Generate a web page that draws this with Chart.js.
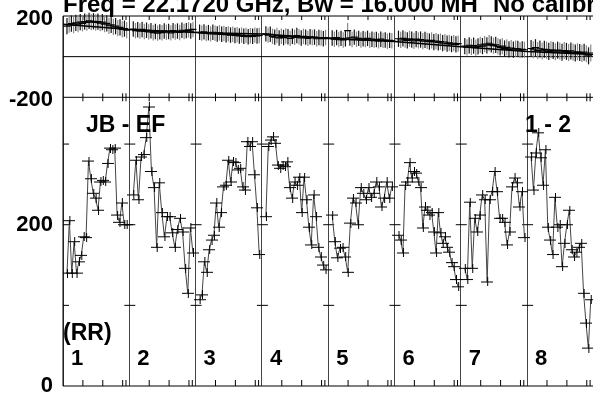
<!DOCTYPE html>
<html>
<head>
<meta charset="utf-8">
<script src="https://cdn.jsdelivr.net/npm/chart.js@4.4.1/dist/chart.umd.min.js"></script>
<style>
  html, body { margin: 0; padding: 0; background: #fff; overflow: hidden; }
  #wrap { position: absolute; left: 0; top: 0; width: 600px; height: 394px; }
</style>
</head>
<body>
<div id="wrap"><canvas id="chart" width="600" height="394"></canvas></div>
<script>
// IF panels and labels
const ifNames = ['1', '2', '3', '4', '5', '6', '7', '8'];
const titleText = 'Freq = 22.1720 GHz, Bw = 16.000 MH';
const titleText2 = 'No calibration';
const baselineLabel = 'JB - EF';
const stokesLabel = '(RR)';
const plotLabel = '1 - 2';
const phaseTickLabels = [200, -200];
const ampTickLabels = [0, 200];
const chanTicks = [0.3, 0.6, 0.9, 0.95];

// phase (degrees) per IF
const phIF1 = [150,158,162,155,166,160,170,164,172,168,176,170,174,168,172,165,170,160,164,152,156,146,150,140,144,134,138,130];
const phIF2 = [136,128,132,126,134,124,130,122,127,118,124,116,122,118,126,120,124,117,128,121,126,119,130,124,128,132,126,134];
const phIF3 = [120,116,122,114,118,112,120,115,111,117,110,114,108,112,106,110,104,108,102,106,100,104,98,103,100,106,102,104];
const phIF4 = [112,106,110,100,96,104,92,100,94,102,98,90,100,95,104,98,92,100,96,90,98,94,96,88,94,92,88,94];
const phIF5 = [92,86,94,84,90,82,88,128,92,84,96,86,90,82,88,84,90,80,86,82,84,78,86,80,82,76,80,78];
const phIF6 = [88,82,90,84,80,88,84,78,86,80,84,76,82,78,74,80,72,76,70,74,66,72,64,68,62,66,60,64];
const phIF7 = [52,46,56,48,54,44,50,58,52,62,56,66,60,54,58,50,46,52,40,46,36,42,34,40,38,32,36,34];
const phIF8 = [40,34,44,30,38,28,36,32,26,34,30,24,32,28,22,30,26,20,28,22,18,24,20,16,22,14,4,18];
const phErr = [40, 38, 38, 38, 38, 40, 40, 42];
// model phase at the IF edges
const modelPhase = [160, 133, 119, 111, 89, 74, 49, 25, 10];

// amplitude per IF
const ampIF1 = [140,205,140,179,140,154,162,185,184,279,257,239,233,218,253,255,253,276,295,293,295,212,203,227,200,200];
const ampIF2 = [237,280,231,284,287,308,346,266,246,172,252,215,185,210,210,190,172,194,208,191,146,115,196,165];
const ampIF3 = [107,113,154,141,169,181,187,227,197,215,247,249,280,253,278,277,268,270,247,243,303,297,303,262,221,163];
const ampIF4 = [210,297,305,309,301,274,270,274,272,278,246,233,253,249,259,215,259,231,197,175,237,210,172,160,150,144];
const ampIF5 = [212,179,159,171,172,160,141,202,233,227,200,246,239,231,246,234,239,253,247,222,233,253,233,247];
const ampIF6 = [187,181,165,249,253,277,258,266,264,253,246,196,222,218,212,215,191,165,215,190,177,185,172,166,153,148,132,123];
const ampIF7 = [146,132,228,146,208,191,212,237,231,129,231,241,266,241,208,208,203,175,191,247,258,252,222,241,184];
const ampIF8 = [284,243,289,314,283,249,293,197,181,163,234,197,200,148,177,200,218,169,160,166,172,177,115,78,47,107];

const phases = [phIF1, phIF2, phIF3, phIF4, phIF5, phIF6, phIF7, phIF8];
const amps = [ampIF1, ampIF2, ampIF3, ampIF4, ampIF5, ampIF6, ampIF7, ampIF8];

// channels sit evenly inside each IF panel
function chanPoints(vals, k) {
  return vals.map((v, i) => ({ x: k + 0.06 + 0.9 * i / (vals.length - 1), y: v }));
}

// AIPS style plus: wide arm across the channel, shorter up/down
function crossImage(w, h) {
  const c = document.createElement('canvas');
  c.width = w; c.height = h;
  const g = c.getContext('2d');
  g.fillStyle = '#000';
  g.fillRect(0, Math.floor(h / 2), w, 1);
  g.fillRect(Math.floor(w / 2), 0, 1, h);
  return c;
}
const ampCross = crossImage(12, 9);

const FONT = '"Liberation Sans", Arial, Helvetica, sans-serif';

const datasets = [];
amps.forEach((a, k) => {
  datasets.push({
    data: chanPoints(a, k),
    yAxisID: 'yAmp',
    showLine: true,
    borderColor: '#444',
    borderWidth: 1,
    pointStyle: ampCross,
    pointRadius: 5
  });
});
phases.forEach((p, k) => {
  datasets.push({
    data: chanPoints(p, k),
    yAxisID: 'yPh',
    showLine: false,
    pointStyle: 'line',
    pointRadius: 3.5,
    pointBorderColor: '#000',
    pointBorderWidth: 1.2,
    err: phErr[k]
  });
});
datasets.push({
  data: modelPhase.map((v, k) => ({ x: k, y: v })),
  yAxisID: 'yPh',
  showLine: true,
  borderColor: '#000',
  borderWidth: 1.5,
  pointRadius: 0
});

function seg(ctx, x1, y1, x2, y2) {
  ctx.beginPath(); ctx.moveTo(x1, y1); ctx.lineTo(x2, y2); ctx.stroke();
}

function noEdgePad(s) {
  s.width = 63;
  s.paddingTop = 0;
  s.paddingBottom = 0;
}

const framePlugin = {
  id: 'frame',
  beforeDatasetsDraw(chart) {
    const { ctx, chartArea: a, scales: { x, yPh, yAmp } } = chart;
    ctx.save();
    ctx.strokeStyle = '#000';
    ctx.lineWidth = 1;
    const yTop = yPh.top, ySep = yPh.bottom, yBot = yAmp.bottom;
    seg(ctx, a.left, yTop, a.right, yTop);
    seg(ctx, a.left, ySep, a.right, ySep);
    seg(ctx, a.left, yBot, a.right, yBot);
    seg(ctx, a.left, yTop, a.left, yBot);
    const y0 = yPh.getPixelForValue(0);
    seg(ctx, a.left, y0, a.right, y0);
    // channel ticks
    for (let k = 0; k < ifNames.length; k++) {
      chanTicks.forEach(f => {
        const px = x.getPixelForValue(k + f);
        seg(ctx, px, yTop, px, yTop + 4);
        seg(ctx, px, ySep - 4, px, ySep + 4);
        seg(ctx, px, yBot, px, yBot - 6);
      });
      const bx = x.getPixelForValue(k);
      [100, 200, 300].forEach(v => {
        const py = yAmp.getPixelForValue(v);
        seg(ctx, k === 0 ? bx : bx - 5, py, bx + 6, py);
      });
    }
    // phase error bars, alternating dark and grey like the plotted pairs
    ctx.lineWidth = 1.2;
    chart.data.datasets.forEach((ds, i) => {
      if (ds.err === undefined) return;
      const meta = chart.getDatasetMeta(i);
      meta.data.forEach((pt, j) => {
        const v = ds.data[j].y;
        ctx.strokeStyle = j % 2 ? '#8a8a8a' : '#111';
        seg(ctx, pt.x, yPh.getPixelForValue(v + ds.err), pt.x, yPh.getPixelForValue(v - ds.err));
      });
    });
    ctx.restore();
  },
  afterDraw(chart) {
    const { ctx, scales: { x } } = chart;
    ctx.save();
    ctx.fillStyle = '#000';
    ctx.textBaseline = 'alphabetic';
    ctx.font = 'bold 24px ' + FONT;
    ctx.fillText(titleText, 63, 12);
    ctx.fillText(titleText2, 493, 12);
    ctx.font = 'bold 23px ' + FONT;
    ctx.fillText(baselineLabel, 86, 132);
    ctx.fillText(plotLabel, 525, 132);
    ctx.fillText(stokesLabel, 63, 340);
    ctx.font = 'bold 22px ' + FONT;
    ifNames.forEach((n, k) => {
      ctx.fillText(n, x.getPixelForValue(k) + 8, 365);
    });
    ctx.restore();
  }
};

new Chart(document.getElementById('chart'), {
  type: 'scatter',
  data: { datasets },
  options: {
    responsive: false,
    animation: false,
    devicePixelRatio: 1,
    layout: { padding: { top: 16, bottom: 8, left: 0, right: 6.6 } },
    plugins: { legend: { display: false }, tooltip: { enabled: false }, title: { display: false } },
    scales: {
      x: {
        type: 'linear', min: 0, max: 8,
        ticks: { display: false, stepSize: 1 },
        grid: { color: '#444', lineWidth: 1, drawTicks: false },
        border: { display: false },
        afterFit(s) { s.height = 0; s.paddingLeft = 0; s.paddingRight = 0; }
      },
      yPh: {
        type: 'linear', position: 'left', stack: 'v', stackWeight: 81.3, weight: 1,
        min: -200, max: 200,
        ticks: {
          stepSize: 200, autoSkip: false, padding: 10, labelOffset: 3, color: '#000',
          font: { family: FONT, size: 22, weight: 'bold' },
          callback: v => phaseTickLabels.includes(v) ? String(v) : ''
        },
        grid: { display: false, drawTicks: false },
        border: { display: false },
        afterFit: noEdgePad
      },
      yAmp: {
        type: 'linear', position: 'left', stack: 'v', stackWeight: 288.7, weight: 0,
        min: 0, max: 358,
        ticks: {
          stepSize: 100, autoSkip: false, padding: 10, color: '#000',
          font: { family: FONT, size: 22, weight: 'bold' },
          callback: v => ampTickLabels.includes(v) ? String(v) : ''
        },
        grid: { display: false, drawTicks: false },
        border: { display: false },
        afterFit: noEdgePad
      }
    }
  },
  plugins: [framePlugin]
});
</script>
</body>
</html>
